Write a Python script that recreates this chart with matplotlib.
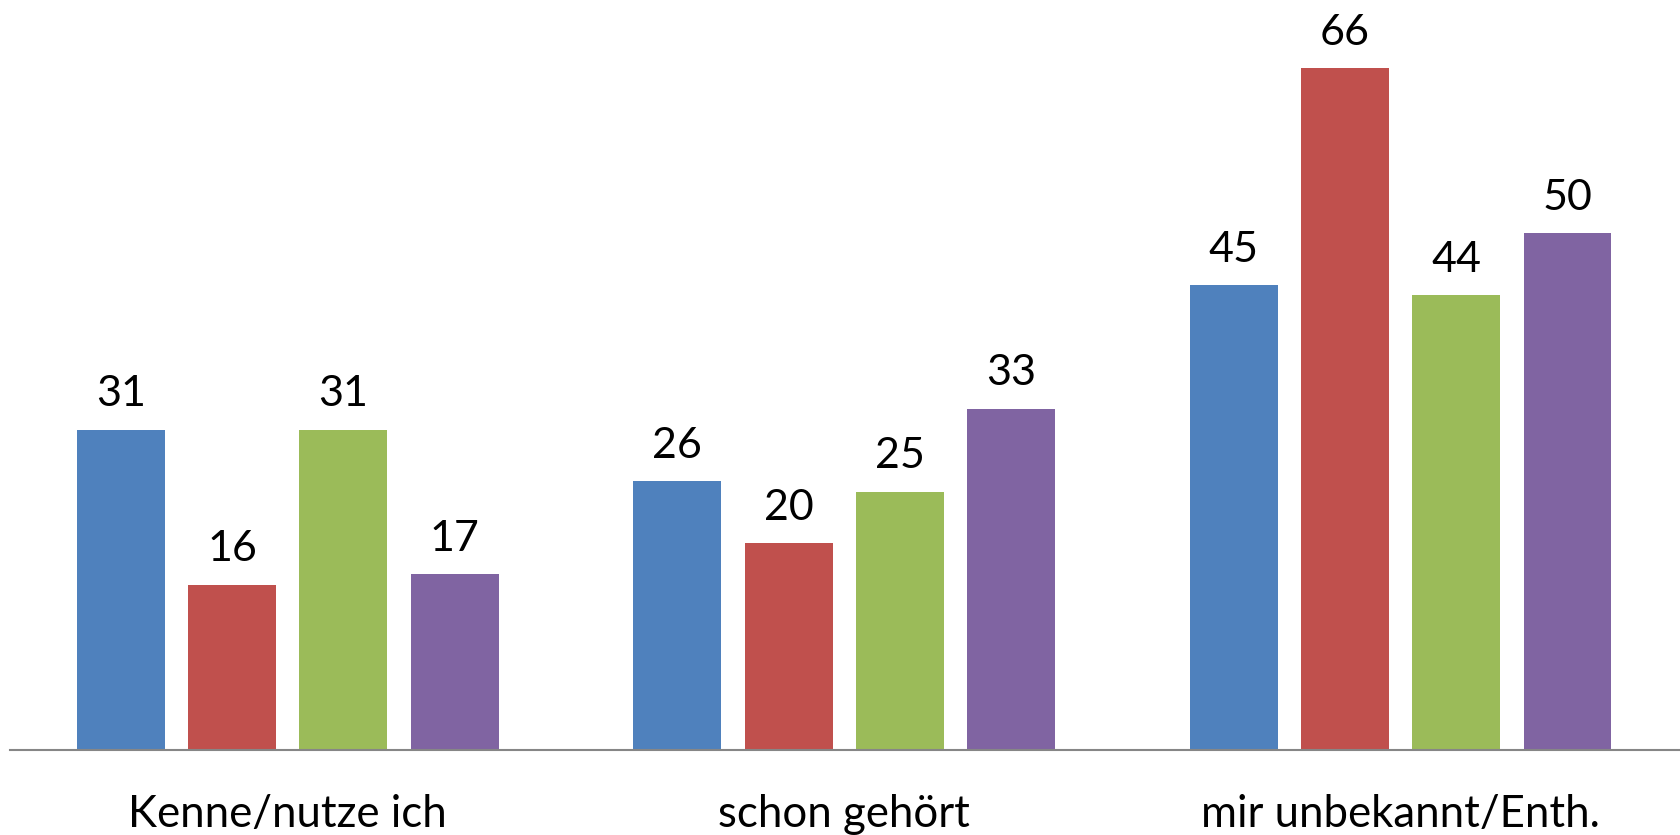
import numpy as np
import matplotlib
matplotlib.use("Agg")
import matplotlib.pyplot as plt

plt.rcParams['font.family'] = ['Lato', 'DejaVu Sans']

categories = ["Kenne/nutze ich", "schon gehört", "mir unbekannt/Enth."]
series_names = ["Serie 1", "Serie 2", "Serie 3", "Serie 4"]
serie1 = [31, 26, 45]
serie2 = [16, 20, 66]
serie3 = [31, 25, 44]
serie4 = [17, 33, 50]
colors = ["#4F81BD", "#C0504D", "#9BBB59", "#8064A2"]

fig = plt.figure(figsize=(16.81, 8.35), dpi=100)
ax = fig.add_axes([0.0057, 0.1018, 0.993, 0.866])

x = np.arange(len(categories))
step = 0.2
width = 0.158
all_series = [serie1, serie2, serie3, serie4]
for i, vals in enumerate(all_series):
    pos = x + (i - 1.5) * step
    bars = ax.bar(pos, vals, width, color=colors[i], label=series_names[i], zorder=2)
    for b, v in zip(bars, vals):
        ax.annotate(str(v), (b.get_x() + b.get_width() / 2, b.get_height()),
                    xytext=(0, 17), textcoords='offset points',
                    ha='center', va='baseline', fontsize=31, color='black')

ax.set_xlim(-0.5, 2.5)
ax.set_ylim(0, 70)
ax.set_xticks(x)
ax.set_xticklabels(categories, fontsize=31.5)
ax.tick_params(axis='x', length=0, pad=32)
ax.set_yticks([])
for s in ['top', 'left', 'right']:
    ax.spines[s].set_visible(False)
ax.spines['bottom'].set_color('#868686')
ax.spines['bottom'].set_linewidth(1.5)
ax.spines['bottom'].set_zorder(3)

fig.savefig("out.png", dpi=100)
